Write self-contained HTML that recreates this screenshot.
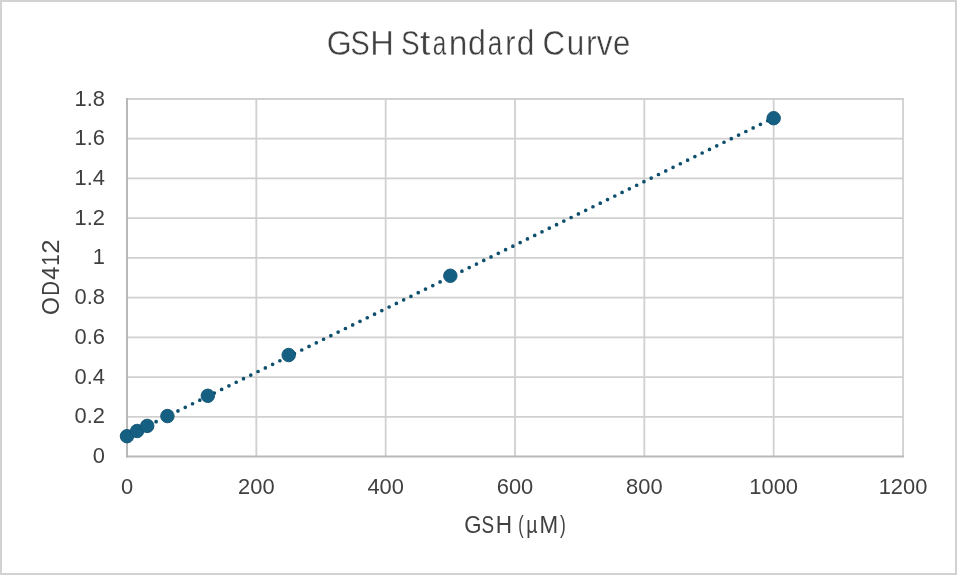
<!DOCTYPE html>
<html><head><meta charset="utf-8"><style>
html,body{margin:0;padding:0;background:#fff;}
body{width:957px;height:575px;overflow:hidden;}
svg{display:block;will-change:transform;}
.t{font-family:"Liberation Sans", sans-serif;font-size:22.8px;fill:#404040;}
.title{font-family:"Liberation Sans", sans-serif;font-size:35px;fill:#404040;stroke:#fff;stroke-width:0.4px;}
.ax{font-family:"Liberation Sans", sans-serif;font-size:24.4px;fill:#404040;}
</style></head><body>
<svg width="957" height="575" viewBox="0 0 957 575">
<rect x="1" y="1" width="955" height="573" fill="#fff" stroke="#d2d2d2" stroke-width="2"/>
<line x1="127.0" y1="416.78" x2="904.0" y2="416.78" stroke="#d0d0d0" stroke-width="1.8"/>
<line x1="127.0" y1="377.06" x2="904.0" y2="377.06" stroke="#d0d0d0" stroke-width="1.8"/>
<line x1="127.0" y1="337.33" x2="904.0" y2="337.33" stroke="#d0d0d0" stroke-width="1.8"/>
<line x1="127.0" y1="297.61" x2="904.0" y2="297.61" stroke="#d0d0d0" stroke-width="1.8"/>
<line x1="127.0" y1="257.89" x2="904.0" y2="257.89" stroke="#d0d0d0" stroke-width="1.8"/>
<line x1="127.0" y1="218.17" x2="904.0" y2="218.17" stroke="#d0d0d0" stroke-width="1.8"/>
<line x1="127.0" y1="178.44" x2="904.0" y2="178.44" stroke="#d0d0d0" stroke-width="1.8"/>
<line x1="127.0" y1="138.72" x2="904.0" y2="138.72" stroke="#d0d0d0" stroke-width="1.8"/>
<line x1="127.0" y1="99.00" x2="904.0" y2="99.00" stroke="#d0d0d0" stroke-width="1.8"/>
<line x1="256.33" y1="98.0" x2="256.33" y2="456.5" stroke="#d0d0d0" stroke-width="1.8"/>
<line x1="385.67" y1="98.0" x2="385.67" y2="456.5" stroke="#d0d0d0" stroke-width="1.8"/>
<line x1="515.00" y1="98.0" x2="515.00" y2="456.5" stroke="#d0d0d0" stroke-width="1.8"/>
<line x1="644.33" y1="98.0" x2="644.33" y2="456.5" stroke="#d0d0d0" stroke-width="1.8"/>
<line x1="773.67" y1="98.0" x2="773.67" y2="456.5" stroke="#d0d0d0" stroke-width="1.8"/>
<line x1="903.00" y1="98.0" x2="903.00" y2="456.5" stroke="#d0d0d0" stroke-width="1.8"/>
<line x1="127.0" y1="98.0" x2="127.0" y2="457.5" stroke="#b8b8b8" stroke-width="2"/>
<line x1="126.0" y1="456.5" x2="904.0" y2="456.5" stroke="#b8b8b8" stroke-width="2"/>
<text transform="translate(105.0,463.10) scale(0.96,1)" text-anchor="end" class="t">0</text>
<text transform="translate(105.0,423.38) scale(0.96,1)" text-anchor="end" class="t">0.2</text>
<text transform="translate(105.0,383.66) scale(0.96,1)" text-anchor="end" class="t">0.4</text>
<text transform="translate(105.0,343.93) scale(0.96,1)" text-anchor="end" class="t">0.6</text>
<text transform="translate(105.0,304.21) scale(0.96,1)" text-anchor="end" class="t">0.8</text>
<text transform="translate(105.0,264.49) scale(0.96,1)" text-anchor="end" class="t">1</text>
<text transform="translate(105.0,224.77) scale(0.96,1)" text-anchor="end" class="t">1.2</text>
<text transform="translate(105.0,185.04) scale(0.96,1)" text-anchor="end" class="t">1.4</text>
<text transform="translate(105.0,145.32) scale(0.96,1)" text-anchor="end" class="t">1.6</text>
<text transform="translate(105.0,105.60) scale(0.96,1)" text-anchor="end" class="t">1.8</text>
<text transform="translate(127.00,494.1) scale(0.96,1)" text-anchor="middle" class="t">0</text>
<text transform="translate(256.33,494.1) scale(0.96,1)" text-anchor="middle" class="t">200</text>
<text transform="translate(385.67,494.1) scale(0.96,1)" text-anchor="middle" class="t">400</text>
<text transform="translate(515.00,494.1) scale(0.96,1)" text-anchor="middle" class="t">600</text>
<text transform="translate(644.33,494.1) scale(0.96,1)" text-anchor="middle" class="t">800</text>
<text transform="translate(773.67,494.1) scale(0.96,1)" text-anchor="middle" class="t">1000</text>
<text transform="translate(903.00,494.1) scale(0.96,1)" text-anchor="middle" class="t">1200</text>
<line x1="127.00" y1="435.97" x2="773.67" y2="117.83" stroke="#0f4f6e" stroke-width="3.7" stroke-linecap="round" stroke-dasharray="0 8.114"/>
<circle cx="127.00" cy="436.20" r="6.75" fill="#156082" stroke="#115474" stroke-width="0.9"/>
<circle cx="137.10" cy="431.00" r="6.75" fill="#156082" stroke="#115474" stroke-width="0.9"/>
<circle cx="147.21" cy="425.89" r="6.75" fill="#156082" stroke="#115474" stroke-width="0.9"/>
<circle cx="167.42" cy="416.10" r="6.75" fill="#156082" stroke="#115474" stroke-width="0.9"/>
<circle cx="207.83" cy="395.80" r="6.75" fill="#156082" stroke="#115474" stroke-width="0.9"/>
<circle cx="288.67" cy="355.05" r="6.75" fill="#156082" stroke="#115474" stroke-width="0.9"/>
<circle cx="450.33" cy="275.78" r="6.75" fill="#156082" stroke="#115474" stroke-width="0.9"/>
<circle cx="773.67" cy="118.19" r="6.75" fill="#156082" stroke="#115474" stroke-width="0.9"/>
<text transform="translate(338.75,55.10) scale(0.915,1)" x="-13.18" class="title" style="font-size:35.0px">G</text>
<text transform="translate(360.20,55.10) scale(0.824,1)" x="-11.66" class="title" style="font-size:35.0px">S</text>
<text transform="translate(381.93,55.10) scale(0.933,1)" x="-12.65" class="title" style="font-size:35.0px">H</text>
<text transform="translate(410.35,55.10) scale(0.799,1)" x="-11.66" class="title" style="font-size:35.0px">S</text>
<text transform="translate(425.30,55.10) scale(1.074,1)" x="-5.00" class="title" style="font-size:35.0px">t</text>
<text transform="translate(440.15,55.10) scale(0.695,1)" x="-10.48" class="title" style="font-size:35.0px">a</text>
<text transform="translate(458.10,55.10) scale(0.955,1)" x="-9.76" class="title" style="font-size:35.0px">n</text>
<text transform="translate(476.60,55.10) scale(0.915,1)" x="-9.34" class="title" style="font-size:35.0px">d</text>
<text transform="translate(495.50,55.10) scale(0.745,1)" x="-10.48" class="title" style="font-size:35.0px">a</text>
<text transform="translate(511.15,55.10) scale(0.903,1)" x="-6.70" class="title" style="font-size:35.0px">r</text>
<text transform="translate(525.20,55.10) scale(0.902,1)" x="-9.34" class="title" style="font-size:35.0px">d</text>
<text transform="translate(553.90,55.10) scale(0.893,1)" x="-12.86" class="title" style="font-size:35.0px">C</text>
<text transform="translate(575.50,55.10) scale(0.901,1)" x="-9.71" class="title" style="font-size:35.0px">u</text>
<text transform="translate(592.00,55.10) scale(0.914,1)" x="-6.70" class="title" style="font-size:35.0px">r</text>
<text transform="translate(604.55,55.10) scale(0.898,1)" x="-8.75" class="title" style="font-size:35.0px">v</text>
<text transform="translate(621.70,55.10) scale(0.889,1)" x="-9.70" class="title" style="font-size:35.0px">e</text>
<text transform="translate(472.55,533.00) scale(0.910,1)" x="-9.19" class="ax" style="font-size:24.4px">G</text>
<text transform="translate(487.85,533.00) scale(0.776,1)" x="-8.13" class="ax" style="font-size:24.4px">S</text>
<text transform="translate(503.80,533.00) scale(0.924,1)" x="-8.82" class="ax" style="font-size:24.4px">H</text>
<text transform="translate(521.35,533.00) scale(0.665,1)" x="-4.75" class="ax" style="font-size:24.4px">(</text>
<text transform="translate(532.25,533.00) scale(0.803,1)" x="-7.58" class="ax" style="font-size:24.4px">µ</text>
<text transform="translate(548.77,533.00) scale(0.916,1)" x="-10.16" class="ax" style="font-size:24.4px">M</text>
<text transform="translate(562.30,533.00) scale(0.711,1)" x="-3.38" class="ax" style="font-size:24.4px">)</text>
<g transform="translate(58.9,0) rotate(-90)"><text transform="translate(-306.15,0.00) scale(0.954,1)" x="-9.37" class="ax" style="font-size:24.1px">O</text><text transform="translate(-288.20,0.00) scale(0.841,1)" x="-9.11" class="ax" style="font-size:24.1px">D</text><text transform="translate(-273.35,0.00) scale(0.980,1)" x="-6.63" class="ax" style="font-size:24.1px">4</text><text transform="translate(-259.60,0.00) scale(0.866,1)" x="-7.03" class="ax" style="font-size:24.1px">1</text><text transform="translate(-246.55,0.00) scale(1.066,1)" x="-6.70" class="ax" style="font-size:24.1px">2</text></g>
</svg>
</body></html>
